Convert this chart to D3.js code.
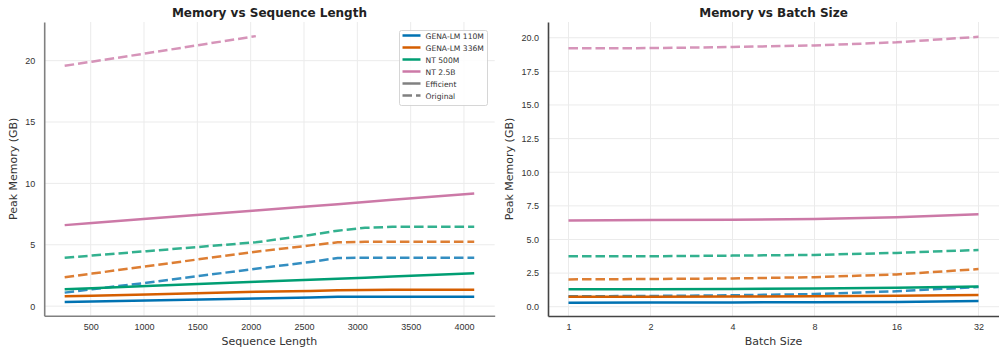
<!DOCTYPE html>
<html>
<head>
<meta charset="utf-8">
<script src="https://cdn.jsdelivr.net/npm/d3@7"></script>
<style>
body { margin: 0; background: #fff; }
svg { font-family: "DejaVu Sans", sans-serif; }
</style>
</head>
<body>
<script>
// models and colours
var models = ["GENA-LM 110M", "GENA-LM 336M", "NT 500M", "NT 2.5B"];
var colors = ["#0072B2", "#D55E00", "#009E73", "#CC79A7"];

// left chart: memory vs sequence length
var seqLengths = [256, 512, 1024, 2048, 2560, 2816, 3072, 3328, 4096];
var seqEfficient = [
  [0.33, 0.37, 0.45, 0.62, 0.70, 0.76, 0.77, 0.77, 0.77],
  [0.80, 0.85, 0.95, 1.17, 1.24, 1.30, 1.32, 1.33, 1.34],
  [1.37, 1.46, 1.63, 1.98, 2.15, 2.24, 2.32, 2.41, 2.67],
  [6.60, 6.77, 7.11, 7.80, 8.14, 8.31, 8.48, 8.66, 9.17]
];
var seqOriginal = [
  [1.10, 1.38, 1.90, 3.05, 3.60, 3.92, 3.94, 3.94, 3.94],
  [2.35, 2.65, 3.25, 4.43, 4.95, 5.20, 5.24, 5.24, 5.24],
  [3.94, 4.12, 4.48, 5.20, 5.80, 6.15, 6.38, 6.46, 6.46],
  [19.58, 19.92, 20.60, 22.00, null, null, null, null, null]
];
var seqTicks = [500, 1000, 1500, 2000, 2500, 3000, 3500, 4000];
var seqYTicks = [0, 5, 10, 15, 20];

// right chart: memory vs batch size
var batchSizes = [1, 2, 4, 8, 16, 32];
var batchEfficient = [
  [0.30, 0.31, 0.32, 0.33, 0.36, 0.42],
  [0.74, 0.75, 0.76, 0.78, 0.82, 0.88],
  [1.29, 1.29, 1.31, 1.36, 1.41, 1.51],
  [6.42, 6.45, 6.47, 6.52, 6.65, 6.87]
];
var batchOriginal = [
  [0.77, 0.80, 0.85, 0.94, 1.15, 1.47],
  [2.03, 2.06, 2.10, 2.20, 2.40, 2.80],
  [3.75, 3.75, 3.80, 3.85, 4.00, 4.22],
  [19.21, 19.23, 19.31, 19.43, 19.66, 20.07]
];
var batchYTicks = [0, 2.5, 5, 7.5, 10, 12.5, 15, 17.5, 20];

var svg = d3.select("body").append("svg")
  .attr("width", 999)
  .attr("height", 349);

//draws one panel
function drawPanel(opt) {
  var g = svg.append("g");
  var x = opt.x, y = opt.y;
  var left = x.range()[0], right = x.range()[1];
  var top = y.range()[1], bottom = y.range()[0];

  //grid
  g.selectAll(".gx").data(opt.xTicks).enter().append("line")
    .attr("x1", function(d) { return x(d); })
    .attr("x2", function(d) { return x(d); })
    .attr("y1", top).attr("y2", bottom)
    .attr("stroke", "#ebebeb").attr("stroke-width", 1);
  g.selectAll(".gy").data(opt.yTicks).enter().append("line")
    .attr("x1", left).attr("x2", right)
    .attr("y1", function(d) { return y(d); })
    .attr("y2", function(d) { return y(d); })
    .attr("stroke", "#ebebeb").attr("stroke-width", 1);

  //lines
  var line = d3.line()
    .defined(function(d) { return d[1] != null; })
    .x(function(d) { return x(d[0]); })
    .y(function(d) { return y(d[1]); });
  for (var i = 0; i < models.length; i++) {
    var orig = opt.xs.map(function(v, k) { return [v, opt.original[i][k]]; });
    g.append("path")
      .attr("d", line(orig))
      .attr("fill", "none")
      .attr("stroke", colors[i])
      .attr("stroke-opacity", 0.8)
      .attr("stroke-width", 2.5)
      .attr("stroke-dasharray", "9.5,4");
  }
  for (var i = 0; i < models.length; i++) {
    var eff = opt.xs.map(function(v, k) { return [v, opt.efficient[i][k]]; });
    g.append("path")
      .attr("d", line(eff))
      .attr("fill", "none")
      .attr("stroke", colors[i])
      .attr("stroke-width", 2.5);
  }

  //axes
  var xAxis = d3.axisBottom(x).tickValues(opt.xTicks).tickSize(0).tickPadding(8)
    .tickFormat(opt.xFormat);
  var gx = g.append("g").attr("transform", "translate(0," + bottom + ")").call(xAxis);
  gx.select(".domain").attr("stroke", opt.spine).attr("stroke-width", 1.6);
  gx.selectAll("text").attr("font-size", 9).attr("fill", "#333");

  var yAxis = d3.axisLeft(y).tickValues(opt.yTicks).tickSize(0).tickPadding(9)
    .tickFormat(opt.yFormat);
  var gy = g.append("g").attr("transform", "translate(" + left + ",0)").call(yAxis);
  gy.select(".domain").attr("stroke", opt.spine).attr("stroke-width", 1.6);
  gy.selectAll("text").attr("font-size", 9).attr("fill", "#333");

  //titles
  g.append("text")
    .attr("x", (left + right) / 2).attr("y", 17)
    .attr("text-anchor", "middle")
    .attr("font-size", 12).attr("font-weight", "bold").attr("fill", "#222")
    .text(opt.title);
  g.append("text")
    .attr("x", (left + right) / 2).attr("y", 345)
    .attr("text-anchor", "middle")
    .attr("font-size", 11).attr("fill", "#333")
    .text(opt.xLabel);
  g.append("text")
    .attr("transform", "translate(" + opt.yLabelX + "," + ((top + bottom) / 2) + ") rotate(-90)")
    .attr("text-anchor", "middle")
    .attr("dominant-baseline", "middle")
    .attr("font-size", 11).attr("fill", "#333")
    .text("Peak Memory (GB)");
}

//left panel
drawPanel({
  x: d3.scaleLinear().domain([64, 4288]).range([44.2, 494.7]),
  y: d3.scaleLinear().domain([-0.78, 23.15]).range([315.7, 22]),
  xs: seqLengths,
  efficient: seqEfficient,
  original: seqOriginal,
  xTicks: seqTicks,
  yTicks: seqYTicks,
  xFormat: d3.format("d"),
  yFormat: d3.format("d"),
  spine: "#808080",
  title: "Memory vs Sequence Length",
  xLabel: "Sequence Length",
  yLabelX: 14
});

//right panel
drawPanel({
  x: d3.scaleLog().base(2).domain([Math.pow(2, -0.25), Math.pow(2, 5.25)]).range([548, 999]),
  y: d3.scaleLinear().domain([-0.69, 21.17]).range([316, 22]),
  xs: batchSizes,
  efficient: batchEfficient,
  original: batchOriginal,
  xTicks: batchSizes,
  yTicks: batchYTicks,
  xFormat: d3.format("d"),
  yFormat: d3.format(".1f"),
  spine: "#444",
  title: "Memory vs Batch Size",
  xLabel: "Batch Size",
  yLabelX: 510
});

//legend on left panel
var legend = svg.append("g").attr("transform", "translate(399.5,30.5)");
legend.append("rect")
  .attr("width", 88).attr("height", 75)
  .attr("rx", 2)
  .attr("fill", "#fff").attr("fill-opacity", 0.85)
  .attr("stroke", "#ccc").attr("stroke-width", 0.8);
var legendItems = models.map(function(m, i) { return { label: m, color: colors[i], dash: null }; });
legendItems.push({ label: "Efficient", color: "#808080", dash: null });
legendItems.push({ label: "Original", color: "#808080", dash: "9.5,4" });
legendItems.forEach(function(d, i) {
  var yy = 5 + i * 12;
  legend.append("line")
    .attr("x1", 3).attr("x2", 21)
    .attr("y1", yy).attr("y2", yy)
    .attr("stroke", d.color).attr("stroke-width", 2.5)
    .attr("stroke-dasharray", d.dash);
  legend.append("text")
    .attr("x", 26).attr("y", yy + 3)
    .attr("font-size", 7.6).attr("fill", "#333")
    .text(d.label);
});
</script>
</body>
</html>
